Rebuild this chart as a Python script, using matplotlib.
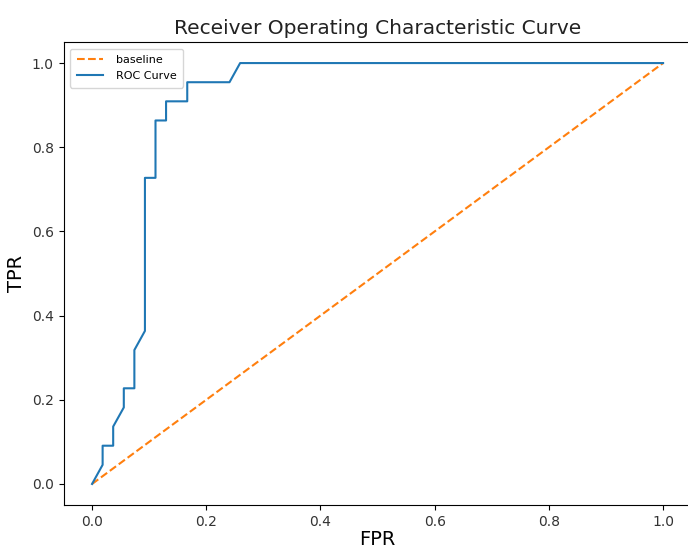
import numpy as np
import matplotlib
matplotlib.use("Agg")
import matplotlib.pyplot as plt

# ROC curve points
fpr = [0.0, 0.0185, 0.0185, 0.037, 0.037, 0.0556, 0.0556, 0.0741, 0.0741,
       0.0926, 0.0926, 0.1111, 0.1111, 0.1296, 0.1296, 0.1667, 0.1667,
       0.2407, 0.2593, 1.0]
tpr = [0.0, 0.0455, 0.0909, 0.0909, 0.1364, 0.1818, 0.2273, 0.2273, 0.3182,
       0.3636, 0.7273, 0.7273, 0.8636, 0.8636, 0.9091, 0.9091, 0.9545,
       0.9545, 1.0, 1.0]
baseline = [0.0, 1.0]

fig = plt.figure(figsize=(6.88, 5.5), dpi=100)
# the original screenshot is cropped on the right, so the axes run past the edge
ax = fig.add_axes([0.0923, 0.0818, 0.913, 0.8418])

ax.plot(baseline, baseline, linestyle="--", color="C1", label="baseline")
ax.plot(fpr, tpr, color="C0", label="ROC Curve")

ax.set_title("Receiver Operating Characteristic Curve", fontsize=14.5, color="#222222")
ax.set_xlabel("FPR", fontsize=14, labelpad=1)
ax.set_ylabel("TPR", fontsize=14)
ax.spines["right"].set_visible(False)
ax.tick_params(labelcolor="#333333")
ax.legend(loc="upper left", fontsize=8, borderpad=0.6, handletextpad=1.15,
          handlelength=2.35, borderaxespad=0.6)

fig.savefig("out.png", dpi=100)
